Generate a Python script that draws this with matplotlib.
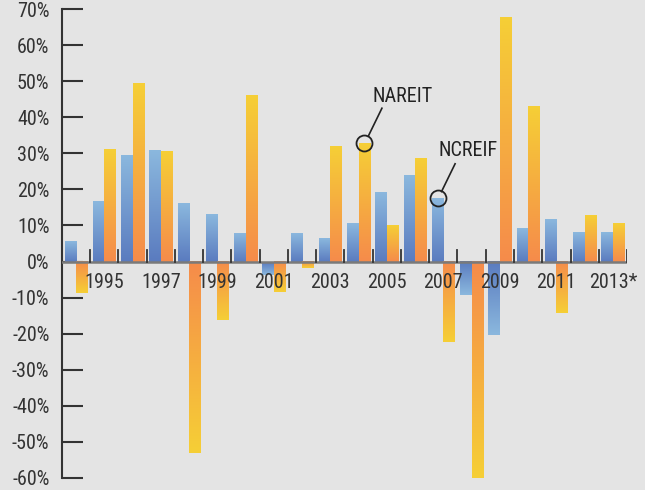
import numpy as np
import matplotlib
matplotlib.use('Agg')
import matplotlib.pyplot as plt
import matplotlib.font_manager as fm
from matplotlib.colors import LinearSegmentedColormap

anos = ['1994', '1995', '1996', '1997', '1998', '1999', '2000', '2001', '2002', '2003',
        '2004', '2005', '2006', '2007', '2008', '2009', '2010', '2011', '2012', '2013*']
ncreif = [5.8, 16.7, 29.4, 30.8, 16.1, 13.1, 7.8, -3.6, 7.8, 6.4,
          10.6, 19.2, 23.9, 17.5, -9.4, -20.5, 9.2, 11.9, 8.3, 8.1]
nareit = [-8.7, 31.1, 49.4, 30.5, -53.0, -16.1, 46.1, -8.5, -1.7, 31.9,
          32.9, 10.0, 28.6, -22.4, -59.9, 67.8, 43.1, -14.4, 12.8, 10.6]
yticks = list(range(-60, 80, 10))

# procura uma fonte condensada (se houver)
cands = [f for f in fm.fontManager.ttflist
         if f.style == 'normal' and f.weight in (400, 'normal', 'regular')
         and ('Narrow' in f.name or 'Condensed' in f.name
              or f.stretch in ('condensed', 'semi-condensed', 'extra-condensed'))]
pref = ['Liberation Sans Narrow', 'Roboto Condensed', 'DejaVu Sans Condensed', 'DejaVu Sans']
cands.sort(key=lambda f: pref.index(f.name) if f.name in pref else len(pref))
if cands:
    fp = fm.FontProperties(fname=cands[0].fname, size=14.5)
else:
    fp = fm.FontProperties(family='DejaVu Sans', size=12.5)

bg = '#e4e4e4'
cmap_azul = LinearSegmentedColormap.from_list('azul', ['#5a7bbf', '#8bb8de'])
cmap_lar = LinearSegmentedColormap.from_list('laranja', ['#f68b4b', '#f5cf36'])

fig = plt.figure(figsize=(6.45, 4.9), dpi=100)
fig.patch.set_facecolor(bg)
ax = fig.add_axes([0.0961, 0.0245, 0.8760, 0.9571])
ax.set_facecolor(bg)

x = np.arange(len(anos))
w = 0.41
grad = np.linspace(0, 1, 256).reshape(-1, 1)


def barra_gradiente(xc, v, cmap):
    # gradiente da base (zero) ate a ponta da barra
    g = grad if v >= 0 else grad[::-1]
    ax.imshow(g, cmap=cmap, aspect='auto', origin='lower',
              extent=(xc - w / 2, xc + w / 2, min(0, v), max(0, v)),
              interpolation='bilinear', zorder=2)


for i in range(len(anos)):
    barra_gradiente(x[i] - w / 2, ncreif[i], cmap_azul)
    barra_gradiente(x[i] + w / 2, nareit[i], cmap_lar)

ax.set_xlim(-0.5, len(anos) - 0.5)
ax.set_ylim(-60, 70)

# linha do zero e marcas entre categorias
ax.axhline(0, color='#7a7a7a', lw=1.8, zorder=3)
for k in range(1, len(anos) + 1):
    ax.plot([k - 0.5, k - 0.5], [0, 3.3], color='#333333', lw=1.3, zorder=3)

for i in range(1, len(anos), 2):
    ax.text(x[i], -3.3, anos[i], ha='center', va='top', fontproperties=fp,
            color='#333333', zorder=4)

ax.set_yticks(yticks)
ax.set_yticklabels([f'{t}%' for t in yticks], fontproperties=fp, color='#333333')
ax.tick_params(axis='y', direction='in', length=15, width=1.5, color='#333333', pad=9)
ax.set_xticks([])
for s in ['top', 'right', 'bottom']:
    ax.spines[s].set_visible(False)
ax.spines['left'].set_color('#333333')
ax.spines['left'].set_linewidth(1.5)


# anotacoes
def anotar(xc, v, texto, tx, ty):
    ax.plot([xc], [v], marker='o', ms=11.5, mfc='none', mec='#222222', mew=1.3, zorder=5)
    ax.plot([xc + 0.14, xc + 0.62], [v + 1.9, v + 9.6], color='#222222', lw=1.2, zorder=5)
    ax.text(tx, ty, texto, fontproperties=fp, color='#222222', ha='left', va='center', zorder=5)


anotar(x[10] + w / 2, nareit[10], 'NAREIT', 10.5, 45.8)
anotar(x[13] - w / 2, ncreif[13], 'NCREIF', 12.83, 30.8)

fig.savefig('out.png', dpi=100, facecolor=bg)
